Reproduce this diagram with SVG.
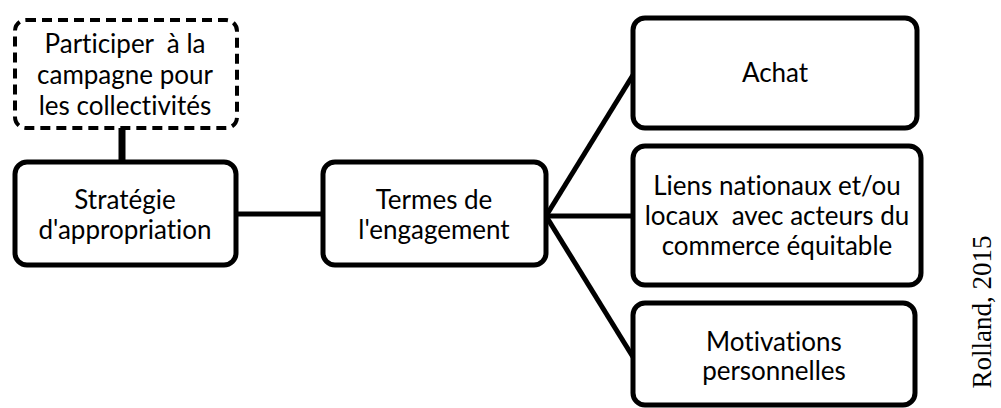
<svg xmlns="http://www.w3.org/2000/svg" width="1001" height="408" viewBox="0 0 1001 408">
<style>
.box{fill:#fff;stroke:#000;stroke-width:5}
.dash{fill:#fff;stroke:#000;stroke-width:4;stroke-dasharray:10 6}
.t{font-family:Lato,"Noto Sans",sans-serif;font-size:26px;fill:#000;text-anchor:middle;white-space:pre;font-variant-ligatures:none}
.c{stroke:#000;stroke-width:5;fill:none}
</style>
<rect width="1001" height="408" fill="#fff"/>
<g id="connectors">
<line class="c" x1="122" y1="128" x2="122" y2="162" style="stroke-width:7"/>
<line class="c" x1="236" y1="214" x2="323" y2="214"/>
<line class="c" x1="546" y1="216" x2="633" y2="75"/>
<line class="c" x1="546" y1="216" x2="633" y2="216"/>
<line class="c" x1="546" y1="216" x2="633" y2="357"/>
</g>
<g id="participer">
<rect class="dash" x="15" y="20" width="222" height="108" rx="11"/>
<text class="t" x="125" y="53" xml:space="preserve">Participer  à la</text>
<text class="t" x="125" y="84">campagne pour</text>
<text class="t" x="125" y="115">les collectivités</text>
</g>
<g id="strategie">
<rect class="box" x="15" y="162" width="221" height="103" rx="12"/>
<text class="t" x="125" y="209">Stratégie</text>
<text class="t" x="125" y="239">d'appropriation</text>
</g>
<g id="termes">
<rect class="box" x="323" y="162" width="223" height="103" rx="12"/>
<text class="t" x="434" y="209">Termes de</text>
<text class="t" x="434" y="239">l'engagement</text>
</g>
<g id="achat">
<rect class="box" x="633" y="18" width="284" height="110" rx="12"/>
<text class="t" x="775" y="82">Achat</text>
</g>
<g id="liens">
<rect class="box" x="633" y="146" width="288" height="139" rx="12"/>
<text class="t" x="777" y="195">Liens nationaux et/ou</text>
<text class="t" x="777" y="225" xml:space="preserve">locaux  avec acteurs du</text>
<text class="t" x="777" y="255">commerce équitable</text>
</g>
<g id="motivations">
<rect class="box" x="633" y="303" width="282" height="102" rx="12"/>
<text class="t" x="774" y="351">Motivations</text>
<text class="t" x="774" y="380">personnelles</text>
</g>
<text x="982" y="312" transform="rotate(-90 982 312)" font-family="Liberation Serif,serif" font-size="27" text-anchor="middle" dominant-baseline="central">Rolland, 2015</text>
</svg>
